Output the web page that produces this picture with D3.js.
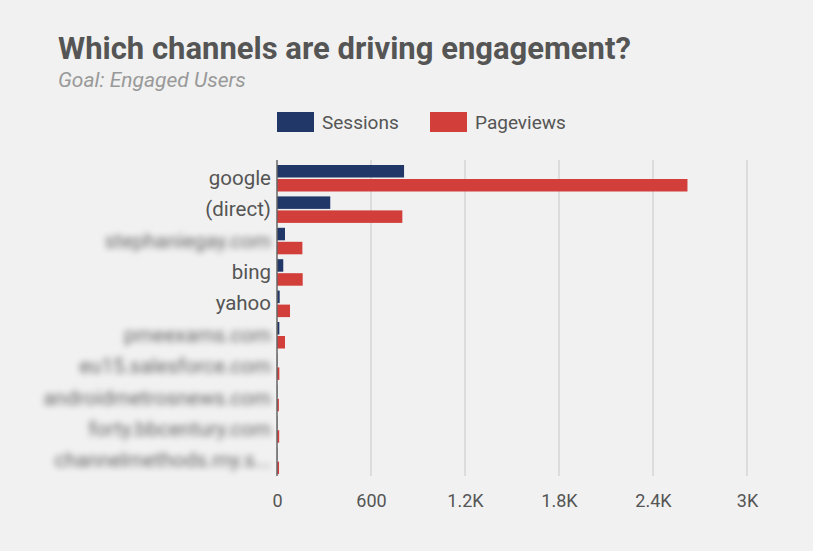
<!DOCTYPE html>
<html><head><meta charset="utf-8">
<script src="https://cdn.jsdelivr.net/npm/d3@7"></script>
<style>
html,body{margin:0;padding:0;background:#f0f1f0;}
svg{display:block;font-family:Roboto, "Open Sans", sans-serif;}
.blur{filter:blur(3px);}
</style></head>
<body><svg id="c" width="813" height="551"></svg>
<script>
const categories = ["google","(direct)","stephaniegay.com","bing","yahoo","pmeexams.com","eu15.salesforce.com","androidmetrosnews.com","forty.bbcentury.com","channelmethods.my.s..."];
const blurred = [false,false,true,false,false,true,true,true,true,true];
const sessions = [811, 340, 51, 40, 17, 15, 2, 2, 2, 2];
const pageviews = [2620, 800, 162, 164, 83, 51, 15, 12, 14, 13];
const seriesNames = ["Sessions","Pageviews"];
const colors = ["#213767","#d23e3a"];
const ticks = [0,600,1200,1800,2400,3000];
const tickLabels = ["0","600","1.2K","1.8K","2.4K","3K"];

const svg = d3.select("#c");
svg.append("rect").attr("width",813).attr("height",551).attr("fill","#f0f1f0");

svg.append("text").attr("x",58).attr("y",59).attr("font-size",31).attr("font-weight",700)
  .attr("fill","#555").text("Which channels are driving engagement?");
svg.append("text").attr("x",58).attr("y",87).attr("font-size",21).attr("font-style","italic")
  .attr("fill","#999").text("Goal: Engaged Users");

// legend
const legX = [277, 430];
seriesNames.forEach((s,i)=>{
  svg.append("rect").attr("x",legX[i]).attr("y",112).attr("width",37).attr("height",20).attr("fill",colors[i]);
  svg.append("text").attr("x",legX[i]+45).attr("y",129).attr("font-size",19).attr("fill","#555").text(s);
});

const x = d3.scaleLinear().domain([0,3000]).range([277,747]);
const y = d3.scaleBand().domain(categories).range([162,476]).paddingInner(0).paddingOuter(0);

// gridlines
svg.append("g").selectAll("line").data(ticks.slice(1)).join("line")
  .attr("x1",d=>x(d)).attr("x2",d=>x(d)).attr("y1",160).attr("y2",476)
  .attr("stroke","#dcdcdc").attr("stroke-width",2);

const bh = 12.5;
const g = svg.append("g");
categories.forEach((c,i)=>{
  const y0 = y(c) + 3;
  g.append("rect").attr("x",x(0)).attr("y",y0).attr("width",Math.max(0,x(sessions[i])-x(0))).attr("height",bh).attr("fill",colors[0]);
  g.append("rect").attr("x",x(0)).attr("y",y0+bh+1.5).attr("width",Math.max(0,x(pageviews[i])-x(0))).attr("height",bh).attr("fill",colors[1]);
});

// axis line
svg.append("line").attr("x1",x(0)).attr("x2",x(0)).attr("y1",160).attr("y2",476).attr("stroke","#666").attr("stroke-width",1.5);

// category labels
svg.append("g").selectAll("text").data(categories).join("text")
  .attr("x",271).attr("y",d=>y(d)+y.bandwidth()/2).attr("dy","0.35em")
  .attr("text-anchor","end").attr("font-size",20.5).attr("fill",(d,i)=>blurred[i]?"#666":"#555")
  .attr("class",(d,i)=>blurred[i]?"blur":null)
  .text(d=>d);

// x tick labels
const xAxis = d3.axisBottom(x).tickValues(ticks).tickFormat((d,i)=>tickLabels[i]).tickSize(0).tickPadding(0);
const ax = svg.append("g").attr("transform","translate(0,494)").call(xAxis);
ax.select(".domain").remove();
ax.selectAll("text").attr("font-size",18).attr("fill","#555").attr("font-family","Roboto, sans-serif");
</script></body></html>
